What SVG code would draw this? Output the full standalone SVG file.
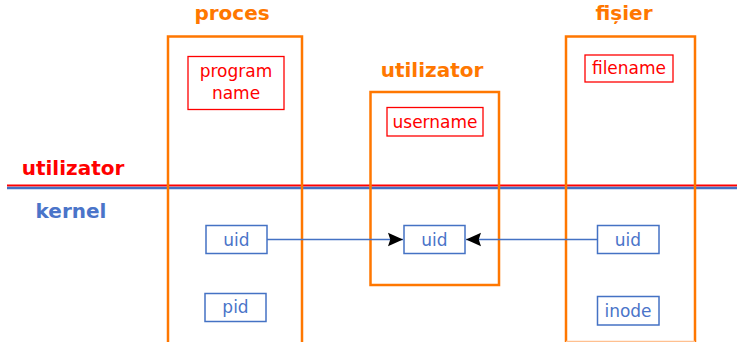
<svg xmlns="http://www.w3.org/2000/svg" width="737" height="342" viewBox="0 0 737 342">
<defs>
<style>
.cont{fill:none;stroke:#ff7700;stroke-width:2.5}
.title{font-family:"DejaVu Sans",sans-serif;font-weight:bold;font-size:20px;fill:#ff7700;text-anchor:middle}
.rbox{fill:#fff;stroke:#ff0000;stroke-width:1.3}
.bbox{fill:#fff;stroke:#4472c4;stroke-width:1.5}
.rt{font-family:"DejaVu Sans",sans-serif;font-size:17px;fill:#ff0000;text-anchor:middle}
.bt{font-family:"DejaVu Sans",sans-serif;font-size:17px;fill:#4a74c9;text-anchor:middle}
.conn{stroke:#4472c4;stroke-width:1.3;fill:none;marker-end:url(#ah)}
</style>
<marker id="ah" viewBox="0 0 10 10" refX="10" refY="5" markerWidth="15" markerHeight="15" markerUnits="userSpaceOnUse" orient="auto">
<path d="M0,0.5 L10,5 L0,9.5 L1.5,5 z" fill="#000"/>
</marker>
</defs>
<rect width="737" height="342" fill="#fff"/>
<g id="layers">
<line x1="7" y1="185.5" x2="737" y2="185.5" stroke="#ff0000" stroke-width="2"/>
<line x1="7" y1="188" x2="737" y2="188" stroke="#4472c4" stroke-width="2.5"/>
<text x="73" y="175" style="font-family:'DejaVu Sans',sans-serif;font-weight:bold;font-size:20px;fill:#ff0000;text-anchor:middle">utilizator</text>
<text x="71" y="218" style="font-family:'DejaVu Sans',sans-serif;font-weight:bold;font-size:20px;fill:#4a74c9;text-anchor:middle">kernel</text>
</g>
<g id="proces">
<path class="cont" d="M168,350 V36.5 H302 V350"/>
<text class="title" x="232" y="20">proces</text>
</g>
<g id="utilizator">
<rect class="cont" x="370.5" y="92" width="128.5" height="193"/>
<text class="title" x="432" y="77">utilizator</text>
</g>
<g id="fisier">
<path class="cont" d="M566,350 V36.5 H695 V350"/>
<line x1="566" y1="341.5" x2="695" y2="341.5" stroke="#ffc090" stroke-width="1.5"/>
<text class="title" x="624" y="20">fișier</text>
</g>
<g id="program-name">
<rect class="rbox" x="188" y="56.5" width="96" height="53"/>
<text class="rt" x="236" y="77">program</text>
<text class="rt" x="236" y="99">name</text>
</g>
<g id="username">
<rect class="rbox" x="387" y="107.5" width="96" height="28.5"/>
<text class="rt" x="435" y="128">username</text>
</g>
<g id="filename">
<rect class="rbox" x="585" y="55" width="88" height="27"/>
<text class="rt" x="629" y="74">filename</text>
</g>
<g id="uid-proces">
<rect class="bbox" x="206" y="225.5" width="61" height="28"/>
<text class="bt" x="236.5" y="245.5">uid</text>
</g>
<g id="pid">
<rect class="bbox" x="205" y="293.5" width="61" height="28"/>
<text class="bt" x="235.5" y="313">pid</text>
</g>
<g id="uid-utilizator">
<rect class="bbox" x="404" y="225.5" width="61" height="28"/>
<text class="bt" x="434.5" y="245.5">uid</text>
</g>
<g id="uid-fisier">
<rect class="bbox" x="597.5" y="225.5" width="61.5" height="28"/>
<text class="bt" x="628" y="245.5">uid</text>
</g>
<g id="inode">
<rect class="bbox" x="597.5" y="296.5" width="61.5" height="28.5"/>
<text class="bt" x="628" y="316.5">inode</text>
</g>
<g id="connectors">
<line class="conn" x1="267" y1="239.5" x2="403" y2="239.5"/>
<line class="conn" x1="597.5" y1="239.5" x2="466" y2="239.5"/>
</g>
</svg>
